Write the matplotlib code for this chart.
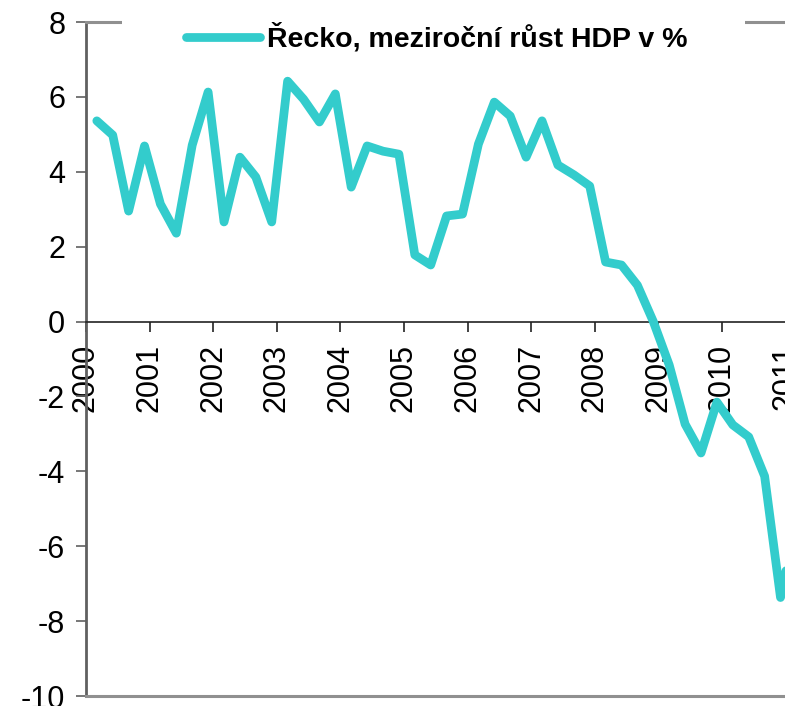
import numpy as np
import matplotlib
matplotlib.use("Agg")
import matplotlib.pyplot as plt
from matplotlib.patches import Rectangle

plt.rcParams["font.family"] = ["Liberation Sans", "DejaVu Sans"]
plt.rcParams["axes.unicode_minus"] = False

# quarterly year-on-year GDP growth of Greece, %
years = np.arange(2000, 2012)
growth = [
    5.36, 4.98, 2.95, 4.69,
    3.14, 2.36, 4.71, 6.13,
    2.66, 4.39, 3.86, 2.66,
    6.42, 5.94, 5.33, 6.08,
    3.59, 4.69, 4.55, 4.47,
    1.78, 1.51, 2.82, 2.87,
    4.74, 5.86, 5.49, 4.39,
    5.36, 4.18, 3.92, 3.62,
    1.59, 1.51, 0.97, 0.0,
    -1.16, -2.74, -3.51, -2.15,
    -2.76, -3.08, -4.13, -7.37,
    -5.3,
]
label = "Řecko, meziroční růst HDP v %"

# quarters sit in the middle of their category slot
quarters = 2000.17 + 0.25 * np.arange(len(growth))

W, H = 785, 706
fig = plt.figure(figsize=(W / 100, H / 100), dpi=100)
# axes runs past the right edge of the picture, like the cropped original
ax = fig.add_axes([86 / W, 10 / H, 11.5 * 63.6 / W, 674 / H])

# x axis sits on the zero line (set before ticks, it resets them)
ax.spines["bottom"].set_position(("data", 0))

line_col = "#33CCCC"
ax.plot(quarters, growth, color=line_col, lw=6.3, solid_joinstyle="round",
        solid_capstyle="round", label=label, clip_on=False, zorder=4)

ax.set_xlim(2000, 2011.5)
ax.set_ylim(-10, 8)
ax.set_yticks(np.arange(-10, 9, 2))
ax.set_xticks(years)
ax.set_xticklabels([str(y) for y in years])

ax.spines["bottom"].set_color("#222222")
ax.spines["bottom"].set_linewidth(1.2)
# grey frame line at the bottom instead
ax.axhline(-10, color="#909090", lw=2.2, clip_on=False, zorder=3)
ax.spines["top"].set_color("#909090")
ax.spines["top"].set_linewidth(2.2)
ax.spines["left"].set_color("#606060")
ax.spines["left"].set_linewidth(2)
ax.spines["right"].set_visible(False)

ax.tick_params(axis="x", direction="out", length=7, width=1.2, color="#222222",
               labelsize=22, pad=9, labelrotation=90)
ax.tick_params(axis="y", direction="out", length=7, width=1.2, color="#606060",
               labelsize=22, pad=8)

# white patch behind the legend hides the middle of the top frame line
ax.add_patch(Rectangle((122, H - 40), 745 - 122, 36, transform=None,
                       facecolor="white", edgecolor="none", zorder=3,
                       clip_on=False))

leg = ax.legend(loc="center", bbox_to_anchor=(437 / W, 1 - 38 / H),
                bbox_transform=fig.transFigure, frameon=False,
                handlelength=2.6, handletextpad=0.25,
                prop={"weight": "bold", "size": 20.5})
leg.set_zorder(6)

fig.savefig("out.png", dpi=100)
